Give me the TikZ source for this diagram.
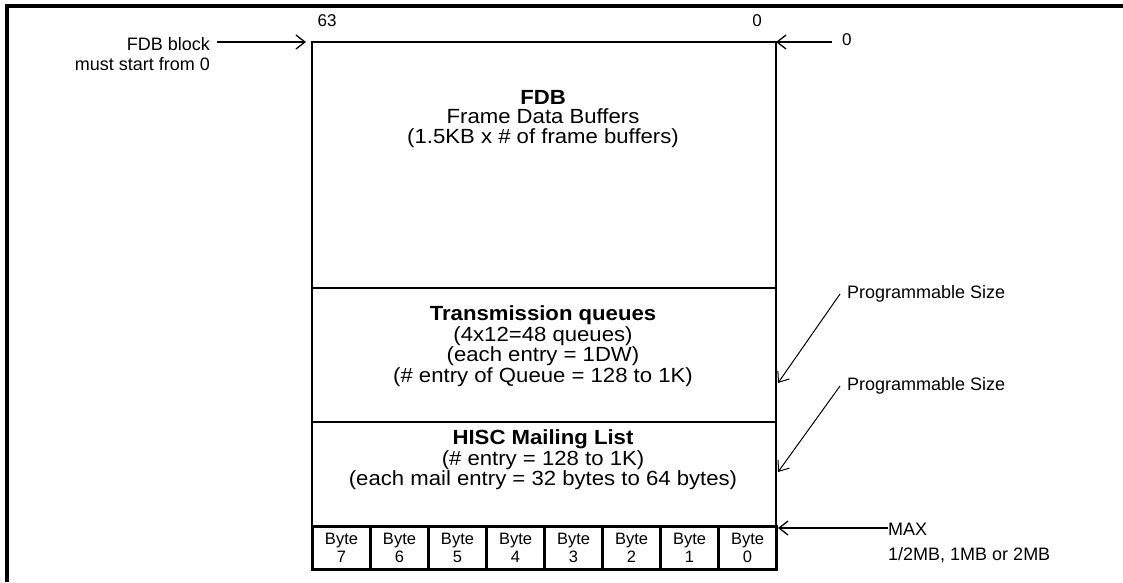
\documentclass[tikz,border=0pt]{standalone}
\usepackage{fontspec}
\setmainfont{Liberation Sans}
\newfontfamily\boxfont[FakeStretch=1.08]{Liberation Sans}
\usetikzlibrary{arrows.meta}

\tikzset{
  region/.style={draw, line width=2.4pt, minimum width=464pt, anchor=north west, inner sep=0pt},
  bytecell/.style={draw, line width=3pt, minimum width=58pt, minimum height=43pt, anchor=north west,
    inner sep=0pt, align=center, font=\fontsize{16.5}{17.5}\selectfont},
  boxtext/.style={align=center, inner sep=0pt, font=\boxfont\fontsize{20.5}{20.5}\selectfont},
  note/.style={inner sep=0pt, text depth=0pt, font=\fontsize{18}{19}\selectfont},
  ptr/.style={line width=1.8pt, -{Straight Barb[length=9pt,width=14pt,line width=1.3pt]}},
  thinptr/.style={line width=1pt, -{Straight Barb[length=9pt,width=14pt]}},
}

\begin{document}
\begin{tikzpicture}[x=1pt,y=-1pt]
    \useasboundingbox (0,0) rectangle (1123,582);
    \draw[line width=4pt] (6.5,582) -- (6.5,5.5) -- (1123,5.5);

    % memory map
    \node[region, minimum height=246pt] (fdb) at (311,41) {};
    \node[region, minimum height=134pt] (txq) at (311,287) {};
    \node[region, minimum height=104pt] (hisc) at (311,421) {};
    \foreach \i in {0,...,7} {
        \pgfmathtruncatemacro\b{7-\i}
        \node[bytecell] (byte\b) at (311+58*\i,525) {Byte\\\b};
    }

    \node[boxtext, font=\boxfont\fontsize{20.5}{19.5}\selectfont] (fdbtxt) at (543,119)
        {\textbf{FDB}\\Frame Data Buffers\\(1.5KB x \# of frame buffers)};
    \node[boxtext] (txqtxt) at (543,346)
        {\textbf{Transmission queues}\\(4x12=48 queues)\\(each entry = 1DW)\\(\# entry of Queue = 128 to 1K)};
    \node[boxtext] (hisctxt) at (543,460)
        {\textbf{HISC Mailing List}\\(\# entry = 128 to 1K)\\(each mail entry = 32 bytes to 64 bytes)};

    % bit numbers
    \node[note, font=\fontsize{17}{18}\selectfont] (msb) at (327,21) {63};
    \node[note, font=\fontsize{17}{18}\selectfont] (lsb) at (757,21) {0};

    % labels
    \node[note, anchor=east] (fdbblk) at (210,43.5) {FDB block};
    \node[note, anchor=east] (fdbnote) at (210,63.5) {must start from 0};
    \node[note, anchor=west, font=\fontsize{17}{18}\selectfont] (topzero) at (842,40) {0};
    \node[note, anchor=west] (txqsize) at (847,292) {Programmable Size};
    \node[note, anchor=west] (hiscsize) at (847,384) {Programmable Size};
    \node[note, anchor=west] (maxlbl) at (888,529) {MAX};
    \node[note, anchor=west] (sizes) at (888,554) {1/2MB, 1MB or 2MB};

    \coordinate (fdbstart) at (306,42);
    \coordinate (fdbzero) at (776,42);
    \coordinate (txqend) at (778,383);
    \coordinate (hiscend) at (778,472);
    \coordinate (maxend) at (778,528);

    \draw[ptr] ([xshift=7pt]fdbblk.east |- fdbstart) -- (fdbstart);
    \draw[ptr] ([xshift=-10pt]topzero.west |- fdbzero) -- (fdbzero);
    \draw[thinptr] ([xshift=-7pt,yshift=-2pt]txqsize.west) -- (txqend);
    \draw[thinptr] ([xshift=-7pt,yshift=-2pt]hiscsize.west) -- (hiscend);
    \draw[ptr] (maxlbl.west |- maxend) -- (maxend);

\end{tikzpicture}
\end{document}
